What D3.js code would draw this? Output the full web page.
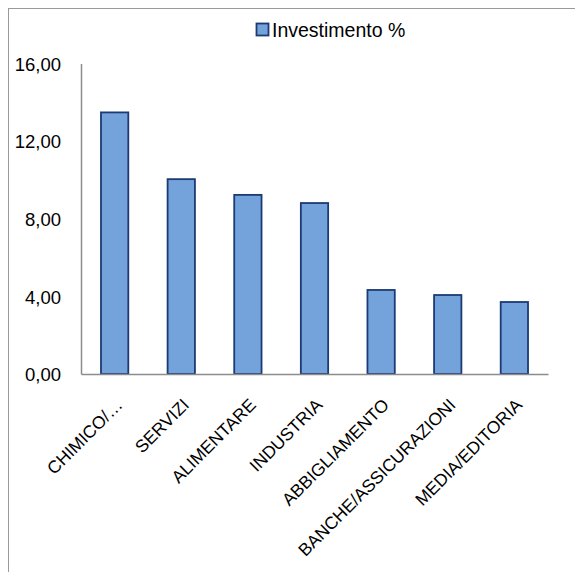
<!DOCTYPE html>
<html>
<head>
<meta charset="utf-8">
<script src="https://cdn.jsdelivr.net/npm/d3@7"></script>
<style>
  html, body { margin: 0; padding: 0; background: #fff; }
  svg { display: block; }
  text { font-family: "Liberation Sans", Arial, sans-serif; fill: #000; }
</style>
</head>
<body>
<svg id="chart" width="575" height="572"></svg>
<script>
// Sector investment shares
const categories = ["CHIMICO/…", "SERVIZI", "ALIMENTARE", "INDUSTRIA", "ABBIGLIAMENTO", "BANCHE/ASSICURAZIONI", "MEDIA/EDITORIA"];
const investimento = [13.48, 10.04, 9.23, 8.81, 4.33, 4.07, 3.71];
const yTicks = [0, 4, 8, 12, 16];
const seriesName = "Investimento %";

const svg = d3.select("#chart");
const fmt = v => v.toFixed(2).replace(".", ",");

// chart frame
svg.append("rect")
  .attr("x", 8.5).attr("y", 8.5)
  .attr("width", 600).attr("height", 600)
  .attr("fill", "none").attr("stroke", "#9a9a9a").attr("stroke-width", 1);

const x = d3.scaleBand().domain(categories).range([81, 548]).paddingInner(0.59).paddingOuter(0.3);
const y = d3.scaleLinear().domain([0, 16]).range([374, 63.5]);

// y axis: line + labels only
const yAxis = svg.append("g").attr("transform", "translate(81,0)")
  .call(d3.axisLeft(y).tickValues(yTicks).tickFormat(fmt).tickSize(0).tickPadding(20));
yAxis.select(".domain").attr("stroke", "#8c8c8c").attr("stroke-width", 1.5);
yAxis.selectAll("text")
  .style("font-family", "Liberation Sans, Arial, sans-serif")
  .style("font-size", "18.5px").attr("fill", "#000").attr("dy", "0.36em");

// bars
svg.append("g").selectAll("rect").data(investimento).join("rect")
  .attr("x", (d, i) => x(categories[i]))
  .attr("y", d => y(d))
  .attr("width", x.bandwidth())
  .attr("height", d => y(0) - y(d))
  .attr("fill", "#74a3db")
  .attr("stroke", "#1c3a73").attr("stroke-width", 1.8);

// x axis
const xAxis = svg.append("g").attr("transform", "translate(0,374)")
  .call(d3.axisBottom(x).tickSize(0).tickPadding(0).tickSizeOuter(0));
xAxis.select(".domain").attr("stroke", "#8c8c8c").attr("stroke-width", 1.5);
xAxis.selectAll("text")
  .style("font-family", "Liberation Sans, Arial, sans-serif")
  .style("font-size", "17.5px").attr("fill", "#000")
  .attr("text-anchor", "end")
  .attr("dy", null).attr("y", 0)
  .attr("transform", "translate(9,32) rotate(-45)");

// legend
const lg = svg.append("g");
lg.append("rect").attr("x", 256.5).attr("y", 23.5).attr("width", 12).attr("height", 12)
  .attr("fill", "#74a3db").attr("stroke", "#1c3a73").attr("stroke-width", 1.8);
lg.append("text").attr("x", 272).attr("y", 36.5)
  .style("font-size", "19.5px").text(seriesName);
</script>
</body>
</html>
